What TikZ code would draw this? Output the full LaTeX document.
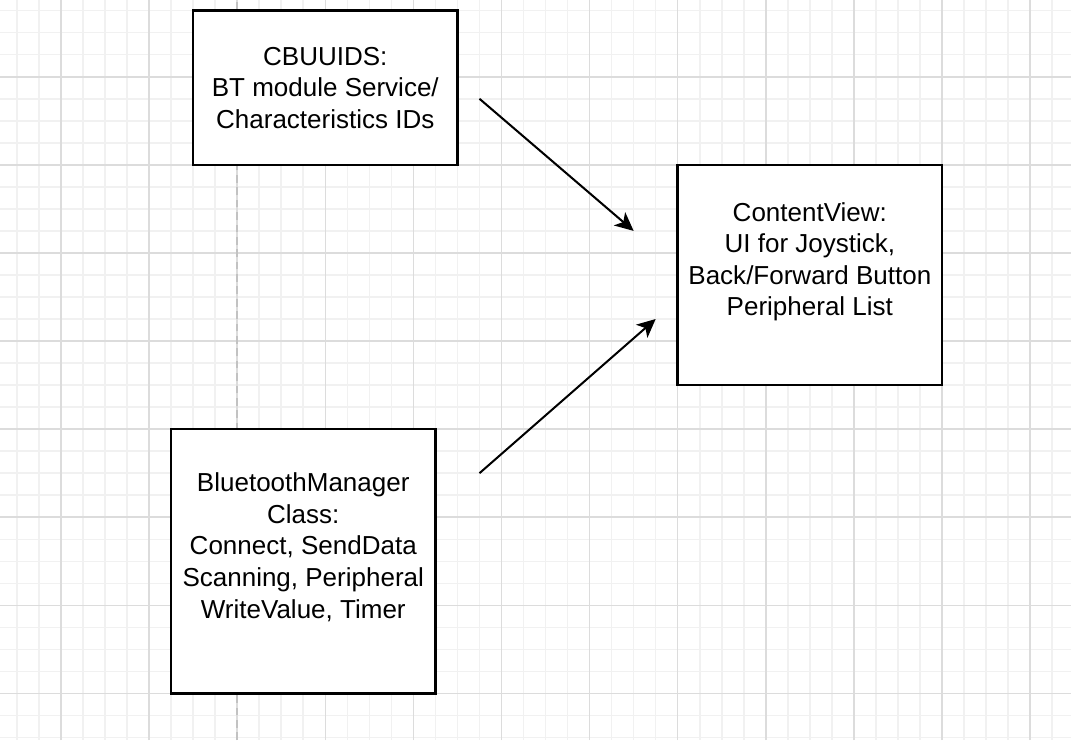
\documentclass[tikz,border=0pt]{standalone}
\usepackage{fontspec}
\setmainfont{Liberation Sans}
\usetikzlibrary{arrows.meta}
\definecolor{minorgrid}{HTML}{F1F1F1}
\definecolor{majorgrid}{HTML}{DCDCDC}
\definecolor{dashgray}{HTML}{C2C2C2}
\tikzset{
  classbox/.style={draw,line width=0.8pt,fill=white,align=center,inner sep=0pt,
    minimum width=3cm,font=\fontsize{8.4}{10.2}\selectfont},
  flow/.style={-{Stealth[length=6pt,width=5.6pt,inset=1.6pt]},line width=0.65pt}
}
\begin{document}
\begin{tikzpicture}
\useasboundingbox (-0.692,-0.529) rectangle (11.464,7.871);

% Background grid
\draw[minorgrid,line width=0.5pt] (-0.692,-0.529) grid[step=0.25] (11.464,7.871);
\draw[majorgrid,line width=0.5pt] (-0.692,-0.529) grid[step=1] (11.464,7.871);
\draw[dashgray,line width=0.5pt,dash pattern=on 2.5pt off 1.5pt] (2,-0.529) -- (2,7.871);

% Classes
\node[classbox,minimum height=1.75cm] (ids) at (3,6.875)
  {CBUUIDS:\\BT module Service/\\Characteristics IDs};
\node[classbox,minimum height=2.5cm] (view) at (8.5,4.75)
  {ContentView:\\UI for Joystick,\\Back/Forward Button\\Peripheral List\\\mbox{}};
\node[classbox,minimum height=3cm] (manager) at (2.75,1.5)
  {BluetoothManager\\Class:\\Connect, SendData\\Scanning, Peripheral\\WriteValue, Timer\\\mbox{}};

% Data flow
\coordinate (idsout) at (4.75,6.75);
\coordinate (viewin1) at (6.5,5.25);
\coordinate (managerout) at (4.75,2.5);
\coordinate (viewin2) at (6.75,4.25);
\draw[flow] (idsout) -- (viewin1);
\draw[flow] (managerout) -- (viewin2);

\end{tikzpicture}
\end{document}
